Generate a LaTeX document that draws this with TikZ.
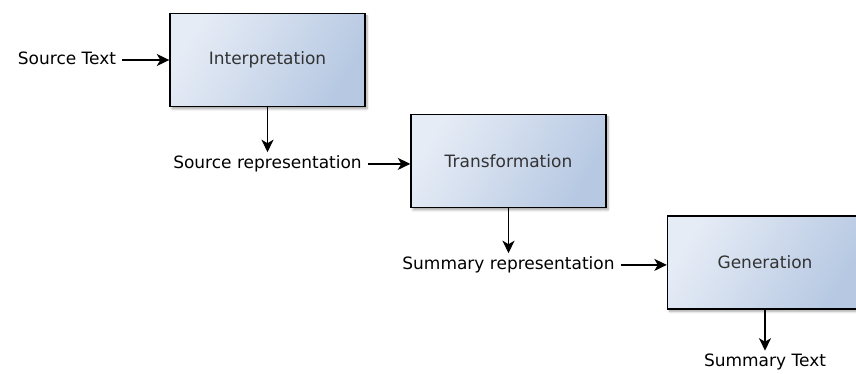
\documentclass[tikz,border=0pt]{standalone}
\usepackage{fontspec}
\setmainfont{DejaVu Sans}
\usetikzlibrary{positioning,arrows.meta,shadows.blur}
\definecolor{boxlight}{RGB}{230,236,246}
\definecolor{boxdark}{RGB}{182,200,226}

\begin{document}
\begin{tikzpicture}[x=1pt,y=1pt,
  stage/.style={draw=black,line width=1.4pt,minimum width=195pt,minimum height=93pt,
    top color=boxlight,bottom color=boxdark,shading angle=60,
    blur shadow={shadow xshift=2pt,shadow yshift=-2.5pt,shadow blur steps=6,shadow opacity=35},
    text=black!80,font=\fontsize{17}{20}\selectfont},
  lbl/.style={inner xsep=6pt,inner ysep=3pt,text height=13pt,text depth=4pt,
    font=\fontsize{17}{20}\selectfont},
  flow/.style={draw=black,line width=1.3pt,-{Stealth[length=12.5pt,width=12pt,inset=3.5pt]}}]
\useasboundingbox (0,0) rectangle (856,373);
% the three stages, stepping down to the right
\node[stage] (interp) at (267.5,313) {Interpretation};
\node[stage] (trans) at (508.5,212) {Transformation};
\node[stage] (gen) at (765,110.5) {Generation};
% what goes in and comes out of each stage
\node[lbl,left=47pt of interp] (srctext) {Source Text};
\node[lbl,below=45pt of interp] (srcrep) {Source representation};
\node[lbl,below=45pt of trans] (sumrep) {Summary representation};
\node[lbl,below=41pt of gen] (sumtext) {Summary Text};
\draw[flow] (srctext) -- (interp);
\draw[flow] (interp) -- (srcrep);
\draw[flow] (srcrep.east) -- (srcrep.east -| trans.west);
\draw[flow] (trans) -- (sumrep);
\draw[flow] (sumrep.east) -- (sumrep.east -| gen.west);
\draw[flow] (gen) -- (sumtext);
\end{tikzpicture}
\end{document}
